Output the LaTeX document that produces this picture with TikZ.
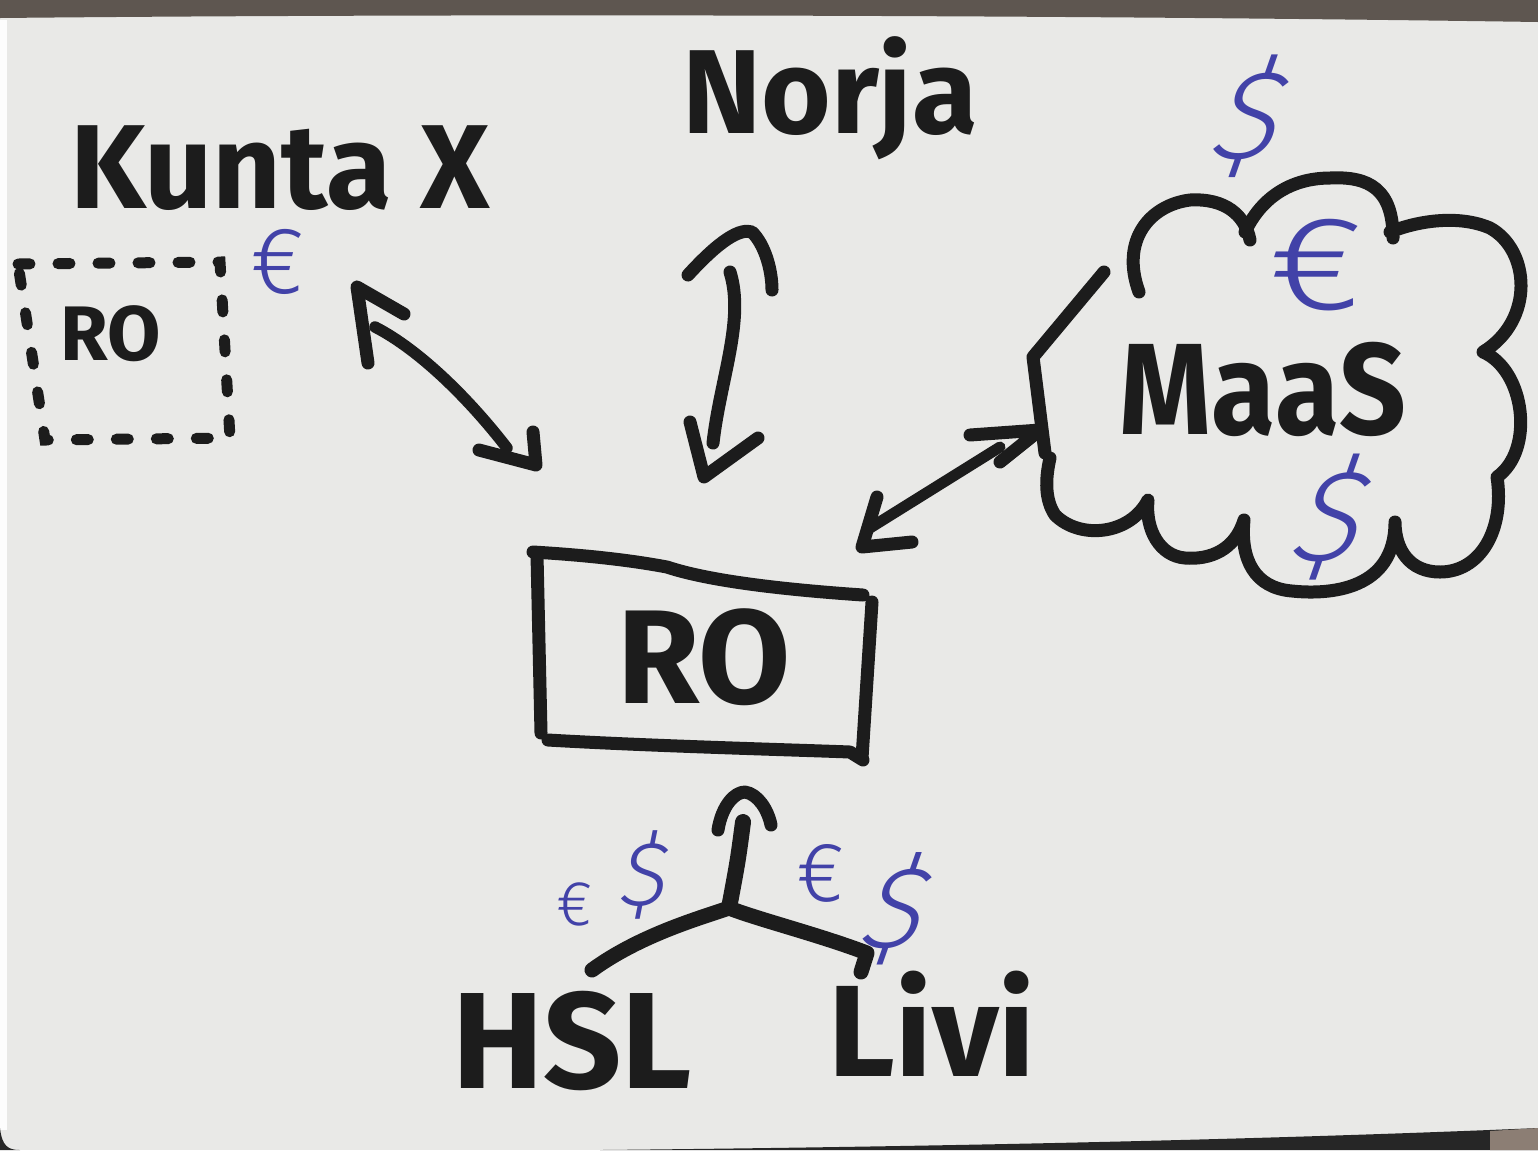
\documentclass[tikz,border=0pt]{standalone}
\usepackage{fontspec}
\setmainfont{Fira Sans}
\newfontfamily\markerfont{Fira Sans}[UprightFont=*-Bold]
\IfFontExistsTF{Fira Sans Light}
  {\newfontfamily\penfont{Fira Sans Light}}
  {\newfontfamily\penfont{Fira Sans}}
\definecolor{paper}{HTML}{E9E9E7}
\definecolor{ink}{HTML}{1C1C1C}
\definecolor{pen}{HTML}{4242A8}
\definecolor{shadowband}{HTML}{5E5650}
\definecolor{floorband}{HTML}{262626}
\definecolor{woodband}{HTML}{8C7E74}
\newcommand{\fsz}[1]{\fontsize{#1}{#1}\selectfont}
\begin{document}
\begin{tikzpicture}[x=0.1mm,y=-0.1mm,
  marker/.style={draw=ink,line width=1.3mm,line cap=round,line join=round},
  dashbox/.style={draw=ink,line width=1.1mm,line cap=round,dash pattern=on 1.2mm off 2.8mm},
  hand/.style={text=ink,inner sep=0pt,anchor=base,font=\markerfont\fsz{#1}},
  money/.style={text=pen,inner sep=0pt,anchor=center,font=\penfont\fsz{#1}},
]
% paper and photo edges
\fill[paper] (0,0) rectangle (1538,1150);
\useasboundingbox (0,0) rectangle (1538,1150);
\fill[shadowband] (0,0) -- (1538,0) -- (1538,22) .. controls (1000,14) and (400,14) .. (0,18) -- cycle;
\fill[white!92!paper] (0,20) rectangle (7,1130);
\fill[floorband] (0,1128) .. controls (2,1146) and (8,1150) .. (20,1150) -- (0,1150) -- cycle;
\fill[floorband] (600,1150) .. controls (1000,1146) and (1300,1138) .. (1538,1128) -- (1538,1150) -- cycle;
\fill[woodband] (1490,1131) -- (1538,1128) -- (1538,1150) -- (1490,1150) -- cycle;

% labels
\node[hand=34pt] (kunta) at (280,208) {Kunta X};
\node[hand=34pt] (norja) at (830,133) {Norja};
\node[hand=22pt] (rosmall) at (111,360) {RO};
\node[hand=38pt] (romain) at (704,703) {RO};
\node[hand=37pt,xscale=0.9,transform shape] (maas) at (1263,434) {MaaS};
\node[hand=39pt] (hsl) at (572,1088) {HSL};
\node[hand=37pt] (livi) at (932,1076) {Livi};

% money marks
\node[money=27pt] (eurkx) at (278,262) {€};
\node[money=38pt,xscale=1.25,transform shape] (eurmaas) at (1316,265) {€};
\node[money=36pt,xslant=0.35,transform shape] (usdtop) at (1254,116) {\$};
\node[money=37pt,xslant=0.35,transform shape] (usdmaas) at (1335,517) {\$};
\node[money=18pt] (eurhsl) at (575,904) {€};
\node[money=26pt,xslant=0.2,transform shape] (usdhsl) at (647,875) {\$};
\node[money=24pt] (eurlivi) at (821,873) {€};
\node[money=33pt,xslant=0.35,transform shape] (usdlivi) at (900,909) {\$};

% dashed box around small RO
\draw[dashbox] (18,264) -- (220,262) -- (230,438) -- (45,440) -- cycle;

% main RO box
\draw[marker] (537,555) -- (541,733);
\draw[marker] (533,552) .. controls (600,556) and (640,562) .. (667,567)
  .. controls (700,578) and (760,588) .. (863,595);
\draw[marker] (872,602) -- (862,758);
\draw[marker] (548,740) .. controls (650,746) and (800,750) .. (850,752) -- (863,760);

% cloud
\draw[marker] (1045,453) -- (1033,357) -- (1104,272);
\draw[marker] (1139,292) .. controls (1120,240) and (1150,205) .. (1190,200)
  .. controls (1225,198) and (1245,215) .. (1250,240);
\draw[marker] (1245,232) .. controls (1265,190) and (1300,178) .. (1330,178)
  .. controls (1370,176) and (1393,190) .. (1393,238);
\draw[marker] (1390,232) .. controls (1420,220) and (1460,215) .. (1490,228)
  .. controls (1530,250) and (1535,320) .. (1483,352)
  .. controls (1525,370) and (1535,450) .. (1497,477)
  .. controls (1505,530) and (1480,572) .. (1440,572)
  .. controls (1410,572) and (1395,550) .. (1395,522)
  .. controls (1395,590) and (1330,595) .. (1292,591)
  .. controls (1255,588) and (1240,560) .. (1244,520)
  .. controls (1235,550) and (1210,560) .. (1185,558)
  .. controls (1160,556) and (1145,530) .. (1148,500)
  .. controls (1130,535) and (1080,540) .. (1055,515)
  .. controls (1045,500) and (1045,480) .. (1050,458);

% connector Kunta X <-> RO
\coordinate (kx-tip) at (357,287);
\coordinate (kx-s) at (375,327);
\coordinate (ro-kx-s) at (507,448);
\coordinate (ro-kx-tip) at (536,465);
\draw[marker,line width=1.15mm] (kx-s) .. controls (420,350) and (470,400) .. (ro-kx-s);
\draw[marker] (368,363) -- (kx-tip) -- (404,314);
\draw[marker] (479,450) -- (ro-kx-tip) -- (533,432);

% connector Norja <-> RO
\coordinate (no-tip) at (752,232);
\coordinate (no-s) at (730,272);
\coordinate (ro-no-s) at (713,443);
\coordinate (ro-no-tip) at (704,477);
\draw[marker] (no-s) .. controls (745,320) and (720,380) .. (ro-no-s);
\draw[marker] (688,275) .. controls (720,240) and (740,228) .. (no-tip) .. controls (765,245) and (772,270) .. (772,290);
\draw[marker] (690,422) -- (ro-no-tip) -- (758,438);

% connector MaaS <-> RO
\coordinate (ma-tip) at (1040,430);
\coordinate (ma-s) at (1000,447);
\coordinate (ro-ma-s) at (870,528);
\coordinate (ro-ma-tip) at (862,547);
\draw[marker,line width=1.1mm] (ma-s) -- (ro-ma-s);
\draw[marker] (970,435) -- (ma-tip) -- (1000,462);
\draw[marker] (877,497) -- (ro-ma-tip) -- (912,542);

% Y connector HSL / Livi -> RO
\coordinate (jct) at (729,908);
\coordinate (y-top) at (743,822);
\coordinate (y-tip) at (745,792);
\coordinate (y-hsl) at (592,970);
\coordinate (y-livi) at (867,953);
\draw[marker,line width=1.6mm] (y-top) .. controls (738,860) .. (jct);
\draw[marker] (718,830) .. controls (722,805) and (735,792) .. (y-tip) .. controls (758,794) and (768,810) .. (771,825);
\draw[marker,line width=1.5mm] (jct) .. controls (700,918) and (640,935) .. (y-hsl);
\draw[marker,line width=1.5mm] (jct) .. controls (760,920) and (820,935) .. (y-livi) -- (861,972);
\end{tikzpicture}
\end{document}
